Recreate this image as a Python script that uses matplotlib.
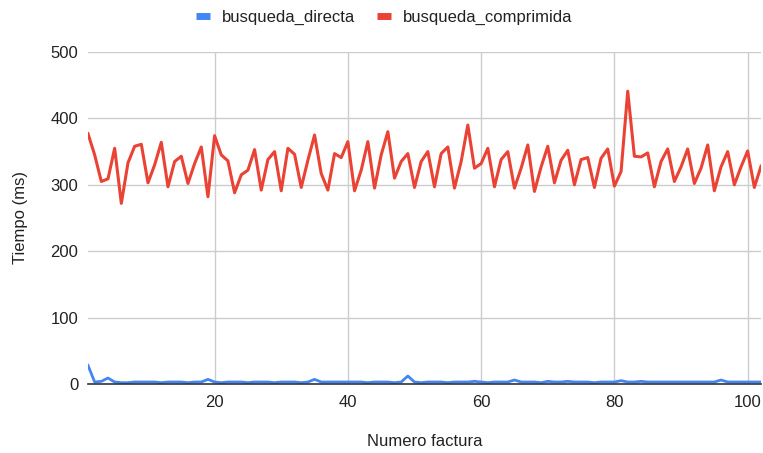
import matplotlib
matplotlib.use("Agg")
import matplotlib.pyplot as plt
from matplotlib.lines import Line2D

plt.rcParams['font.family'] = ['Liberation Sans', 'DejaVu Sans']

factura = list(range(1, 103))

busqueda_directa = [
    28, 3, 4, 9, 3, 2, 2, 3, 3, 3,
    3, 2, 3, 3, 3, 2, 3, 3, 7, 3,
    2, 3, 3, 3, 2, 3, 3, 3, 2, 3,
    3, 3, 2, 3, 7, 3, 3, 3, 3, 3,
    3, 3, 2, 3, 3, 3, 2, 3, 12, 3,
    2, 3, 3, 3, 2, 3, 3, 3, 4, 3,
    2, 3, 3, 3, 6, 3, 3, 3, 2, 4,
    3, 3, 4, 3, 3, 3, 2, 3, 3, 3,
    5, 3, 3, 4, 3, 3, 3, 3, 3, 3,
    3, 3, 3, 3, 3, 6, 3, 3, 3, 3,
    3, 3,
]

busqueda_comprimida = [
    377, 345, 305, 309, 355, 272, 333, 358, 361, 303,
    330, 364, 297, 335, 343, 302, 332, 357, 282, 374,
    345, 336, 288, 315, 322, 353, 292, 338, 350, 291,
    355, 346, 296, 337, 375, 317, 292, 347, 341, 365,
    291, 322, 365, 295, 345, 380, 310, 335, 347, 296,
    335, 350, 297, 347, 357, 295, 335, 390, 325, 332,
    355, 297, 338, 350, 295, 325, 360, 290, 327, 358,
    303, 337, 352, 300, 338, 341, 296, 340, 354, 298,
    320, 441, 343, 342, 348, 297, 335, 354, 305, 327,
    354, 302, 325, 360, 291, 327, 350, 300, 327, 351,
    296, 328,
]

series_names = ['busqueda_directa', 'busqueda_comprimida']
series_colors = ['#4285F4', '#EA4335']

y_ticks = [0, 100, 200, 300, 400, 500]
x_ticks = [20, 40, 60, 80, 100]

W, H = 763, 453
FS = 12
TXT = '#222222'

fig = plt.figure(figsize=(W / 100, H / 100), dpi=100)
ax = fig.add_axes([88 / W, (H - 384) / H, 673 / W, 332 / H])

ax.plot(factura, busqueda_directa, color=series_colors[0], lw=2.0,
        solid_joinstyle='round', zorder=3)
ax.plot(factura, busqueda_comprimida, color=series_colors[1], lw=2.2,
        solid_joinstyle='round', zorder=3)

ax.set_xlim(1, 102)
ax.set_ylim(0, 500)
ax.set_yticks(y_ticks)
ax.set_xticks(x_ticks)
ax.grid(True, color='#cccccc', lw=1.0, zorder=0)
ax.set_axisbelow(True)

for side in ['top', 'right', 'left']:
    ax.spines[side].set_visible(False)
ax.spines['bottom'].set_color('#333333')
ax.spines['bottom'].set_linewidth(1.2)
ax.spines['bottom'].set_zorder(4)

ax.tick_params(axis='both', length=0, labelsize=FS, labelcolor=TXT)
ax.tick_params(axis='y', pad=7)
ax.tick_params(axis='x', pad=8)

# axis titles
fig.text((88 + 761) / 2 / W, 1 - 441 / H, 'Numero factura', ha='center',
         va='center', fontsize=FS, color=TXT)
fig.text(21 / W, 1 - 218 / H, 'Tiempo (ms)', ha='center', va='center',
         rotation=90, fontsize=FS, color=TXT)

handles = [Line2D([0], [0], color=c, lw=5, solid_capstyle='butt') for c in series_colors]
fig.legend(handles, series_names, loc='center', bbox_to_anchor=(384.5 / W, 1 - 17 / H),
           ncol=2, frameon=False, fontsize=FS, handlelength=0.8,
           handletextpad=0.75, columnspacing=1.3, labelcolor=TXT,
           borderpad=0, borderaxespad=0)

fig.savefig('out.png', dpi=100)
